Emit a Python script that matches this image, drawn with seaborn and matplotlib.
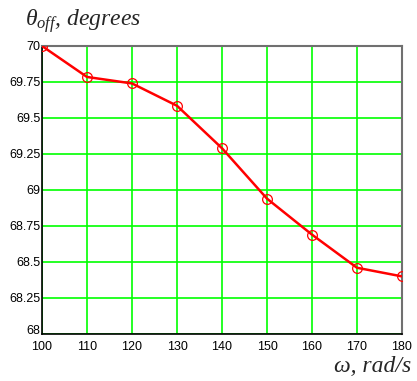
import matplotlib
matplotlib.use("Agg")
import matplotlib.pyplot as plt
import matplotlib.transforms as mtransforms
import seaborn as sns
import pandas as pd

omega = [100, 110, 120, 130, 140, 150, 160, 170, 180]
theta_off = [70.0, 69.785, 69.74, 69.585, 69.29, 68.94, 68.69, 68.46, 68.40]
x_ticks = [100, 110, 120, 130, 140, 150, 160, 170, 180]
y_ticks = [68, 68.25, 68.5, 68.75, 69, 69.25, 69.5, 69.75, 70]
y_tick_labels = ["68", "68.25", "68.5", "68.75", "69", "69.25", "69.5", "69.75", "70"]

df = pd.DataFrame({"omega": omega, "theta": theta_off})

sns.set_style("white")
plt.rcParams['font.family'] = ['Liberation Sans', 'DejaVu Sans']
plt.rcParams['mathtext.fontset'] = 'custom'
plt.rcParams['mathtext.it'] = 'Liberation Serif:italic'
plt.rcParams['mathtext.rm'] = 'Liberation Serif'

fig = plt.figure(figsize=(4.17, 3.81), dpi=100)
ax = fig.add_axes([42/417, 1-334/381, 360/417, 288/381])

sns.lineplot(data=df, x="omega", y="theta", ax=ax, color="#ff0000", linewidth=1.8,
             marker="o", markersize=7, markerfacecolor="none",
             markeredgecolor="#ff0000", markeredgewidth=0.9, zorder=3)

ax.set_xlim(100, 180)
ax.set_ylim(68, 70)
ax.set_xticks(x_ticks)
ax.set_yticks(y_ticks)
ax.set_yticklabels(y_tick_labels)
ax.grid(True, color="#00ff00", linewidth=1.2)
ax.tick_params(axis='both', length=0, labelsize=9, colors="black")
ax.tick_params(axis='y', pad=1)
ax.tick_params(axis='x', pad=5)
ax.set_xlabel("")
ax.set_ylabel("")

# nudge the bottom y label upward, as in the reference
lbl68 = ax.get_yticklabels()[0]
lbl68.set_transform(lbl68.get_transform() + mtransforms.ScaledTranslation(0, 4/100, fig.dpi_scale_trans))

for s in ["left", "bottom"]:
    ax.spines[s].set_color("black")
    ax.spines[s].set_linewidth(1.2)
for s in ["top", "right"]:
    ax.spines[s].set_color("#707070")
    ax.spines[s].set_linewidth(1.5)

fig.text(25/417, 1-21/381, r"$\theta_{off}$, degrees", fontsize=17, family="Liberation Serif",
         style="italic", va="center", ha="left")
fig.text(411/417, 1-367/381, r"ω, rad/s", fontsize=17, family="Liberation Serif",
         style="italic", va="center", ha="right")

fig.savefig("out.png", dpi=100)
